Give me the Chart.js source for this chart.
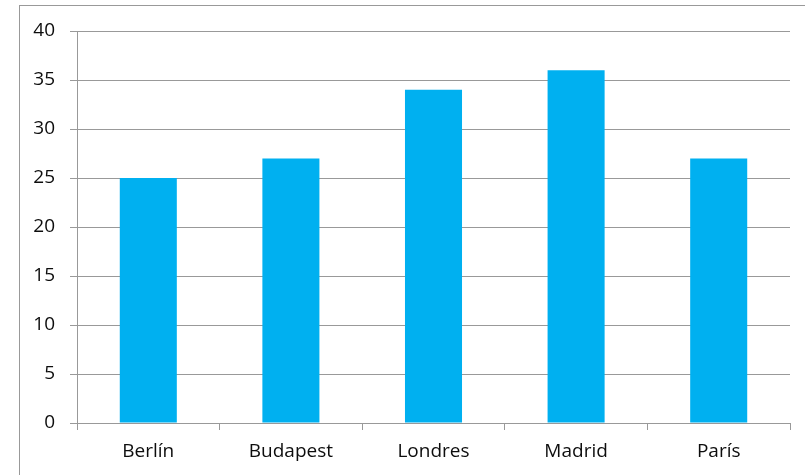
<!DOCTYPE html>
<html>
<head>
<meta charset="utf-8">
<script src="https://cdn.jsdelivr.net/npm/chart.js@4"></script>
<style>
    html, body { margin: 0; padding: 0; background: #fff; overflow: hidden; }
    #wrap { position: relative; width: 805px; height: 475px; }
    #frame { position: absolute; left: 19px; top: 5px; width: 900px; height: 600px; border: 1px solid #999; box-sizing: border-box; }
    canvas { position: absolute; left: 0; top: 0; }
</style>
</head>
<body>
<div id="wrap">
    <div id="frame"></div>
    <canvas id="chart" width="805" height="475"></canvas>
</div>
<script>
const cities = ['Berlín', 'Budapest', 'Londres', 'Madrid', 'París'];
const values = [25, 27, 34, 36, 27];
const yTicks = [0, 5, 10, 15, 20, 25, 30, 35, 40];

const gridColor = '#999999';
const tickFont = { family: 'Open Sans', size: 19 };

const ctx = document.getElementById('chart').getContext('2d');

new Chart(ctx, {
    type: 'bar',
    data: {
        labels: cities,
        datasets: [{
            data: values,
            backgroundColor: '#00B0F0',
            borderWidth: 0,
            barPercentage: 0.4,
            categoryPercentage: 1
        }]
    },
    options: {
        responsive: false,
        animation: false,
        layout: {
            padding: { top: 31, right: 15, bottom: 12, left: 0 }
        },
        plugins: {
            legend: { display: false },
            tooltip: { enabled: false }
        },
        scales: {
            x: {
                grid: {
                    offset: true,
                    drawOnChartArea: false,
                    drawTicks: true,
                    tickLength: 7,
                    color: gridColor
                },
                border: { display: true, color: gridColor },
                ticks: {
                    color: '#0d0d0d',
                    font: tickFont,
                    padding: 10,
                    maxRotation: 0
                },
                afterFit: (scale) => { scale.height = 40; }
            },
            y: {
                min: 0,
                max: 40,
                afterBuildTicks: (scale) => {
                    scale.ticks = yTicks.map(v => ({ value: v }));
                },
                grid: {
                    color: gridColor,
                    drawTicks: true,
                    tickLength: 7
                },
                border: { display: true, color: gridColor },
                ticks: {
                    color: '#0d0d0d',
                    font: tickFont,
                    padding: 15
                },
                afterFit: (scale) => { scale.width = 77; }
            }
        }
    }
});
</script>
</body>
</html>
